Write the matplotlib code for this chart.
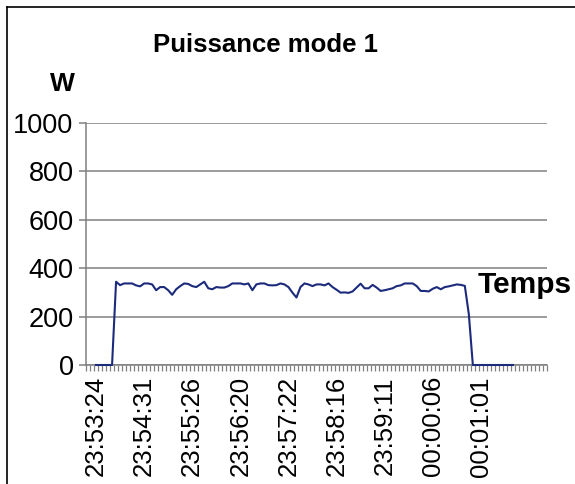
import numpy as np
import matplotlib
matplotlib.use("Agg")
import matplotlib.pyplot as plt
from matplotlib.lines import Line2D

plt.rcParams['font.family'] = ['Liberation Sans', 'DejaVu Sans']

# categories: 115 slots on the time axis, first two and last eight are blank
n_categories = 115
first_index = 2
label_step = 12
time_labels = ["23:53:24", "23:54:31", "23:55:26", "23:56:20", "23:57:22",
               "23:58:16", "23:59:11", "00:00:06", "00:01:01"]

# power in W, one value per sample
power = [0, 0, 0, 0, 0,
         344, 330, 337, 337, 337, 329, 325, 337, 337, 333,
         309, 322, 322, 309, 290, 313, 326, 337, 335, 326,
         322, 333, 344, 317, 313, 322, 320, 320, 326, 337,
         337, 337, 333, 337, 309, 333, 337, 337, 330, 329,
         330, 337, 333, 322, 299, 279, 322, 337, 333, 326,
         333, 333, 329, 337, 322, 311, 299, 300, 298, 304,
         320, 336, 317, 317, 331, 320, 306, 309, 313, 317,
         326, 329, 337, 337, 337, 326, 306, 306, 304, 315,
         322, 313, 322, 325, 329, 333, 331, 327, 210,
         0, 0, 0, 0, 0, 0, 0, 0, 0, 0, 0]

grey = "#808080"
navy = "#1c2a7c"

fig = plt.figure(figsize=(5.75, 4.84), dpi=100)
ax = fig.add_axes([86/575, 1-365/484, 461/575, 242/484])

x = np.arange(first_index, first_index + len(power))
ax.plot(x, power, color=navy, lw=1.5, solid_joinstyle="round",
        zorder=4, clip_on=False)

ax.set_xlim(-0.5, n_categories - 0.5)
ax.set_ylim(0, 1000)
ax.set_yticks([0, 200, 400, 600, 800, 1000])
ax.grid(axis="y", color=grey, lw=1.1)
ax.set_axisbelow(True)

tick_pos = first_index + label_step*np.arange(len(time_labels))
ax.set_xticks(tick_pos)
ax.set_xticklabels(time_labels, rotation=90, fontsize=18.5)
ax.set_xticks(np.arange(-0.5, n_categories), minor=True)
ax.tick_params(axis="x", which="major", length=0, pad=8)
ax.tick_params(axis="x", which="minor", length=4, color=grey, width=0.9, direction="out")
ax.tick_params(axis="y", length=5, color=grey, width=1.1, labelsize=19.5, pad=4)

for s in ["top", "right"]:
    ax.spines[s].set_visible(False)
for s in ["left", "bottom"]:
    ax.spines[s].set_color(grey)
    ax.spines[s].set_linewidth(1.1)

fig.text(0.461, 0.907, "Puissance mode 1", ha="center", va="center",
         fontsize=18.5, fontweight="bold")
fig.text(0.108, 0.826, "W", ha="center", va="center", fontsize=19, fontweight="bold")
fig.text(478/575, 1-285/484, "Temps", ha="left", va="center", fontsize=21.5, fontweight="bold")

# outer chart frame (cropped on right and bottom)
fig.add_artist(Line2D([7/575, 7/575], [0, 1-7/484], color="black", lw=1.2,
                      transform=fig.transFigure))
fig.add_artist(Line2D([7/575, 1], [1-7/484, 1-7/484], color="black", lw=1.2,
                      transform=fig.transFigure))

fig.savefig("out.png", dpi=100)
